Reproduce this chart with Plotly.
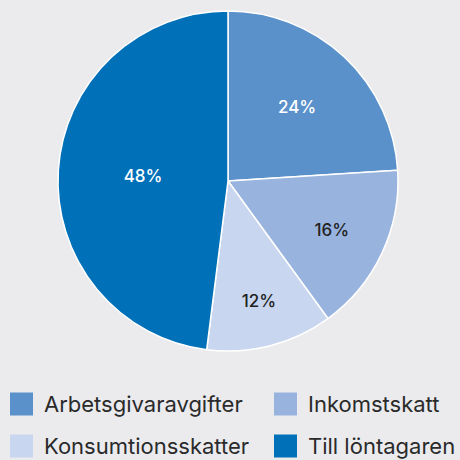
import plotly.graph_objects as go

labels = ["Arbetsgivaravgifter", "Inkomstskatt", "Konsumtionsskatter", "Till löntagaren"]
values = [24, 16, 12, 48]
colors = ["#5b91cb", "#98b3de", "#c8d6ef", "#0070b9"]
text_colors = ["#ffffff", "#222222", "#222222", "#ffffff"]
bg = "#ebebee"

fig = go.Figure(go.Pie(
    labels=labels, values=values, sort=False, direction="clockwise", rotation=0,
    marker=dict(colors=colors, line=dict(color="#ffffff", width=1.5)),
    texttemplate="%{value}%", textposition="inside", insidetextorientation="horizontal",
    textfont=dict(family="Inter", size=17, color=text_colors, weight=500),
    showlegend=False, hoverinfo="label+value",
    domain=dict(x=[58/460, 398/460], y=[(460-351)/460, (460-11)/460]),
))

# manual legend
pos = [(10, 404), (274, 404), (10, 446), (274, 446)]
for lab, col, (x, y) in zip(labels, colors, pos):
    fig.add_shape(type="rect", xref="paper", yref="paper",
                  x0=x/460, x1=(x+23)/460, y0=1-(y+11.5)/460, y1=1-(y-11.5)/460,
                  fillcolor=col, line=dict(width=0))
    fig.add_annotation(xref="paper", yref="paper", x=(x+32)/460, y=1-y/460,
                       text=lab, showarrow=False, xanchor="left", yanchor="middle",
                       font=dict(family="Inter", size=22, color="#2a2a2a"))

fig.update_layout(width=460, height=460, margin=dict(l=0, r=0, t=0, b=0),
                  paper_bgcolor=bg, plot_bgcolor=bg)
fig.write_html("out.html", config={"displayModeBar": False},
               post_script="document.body.style.margin='0';document.body.style.overflow='hidden';")
